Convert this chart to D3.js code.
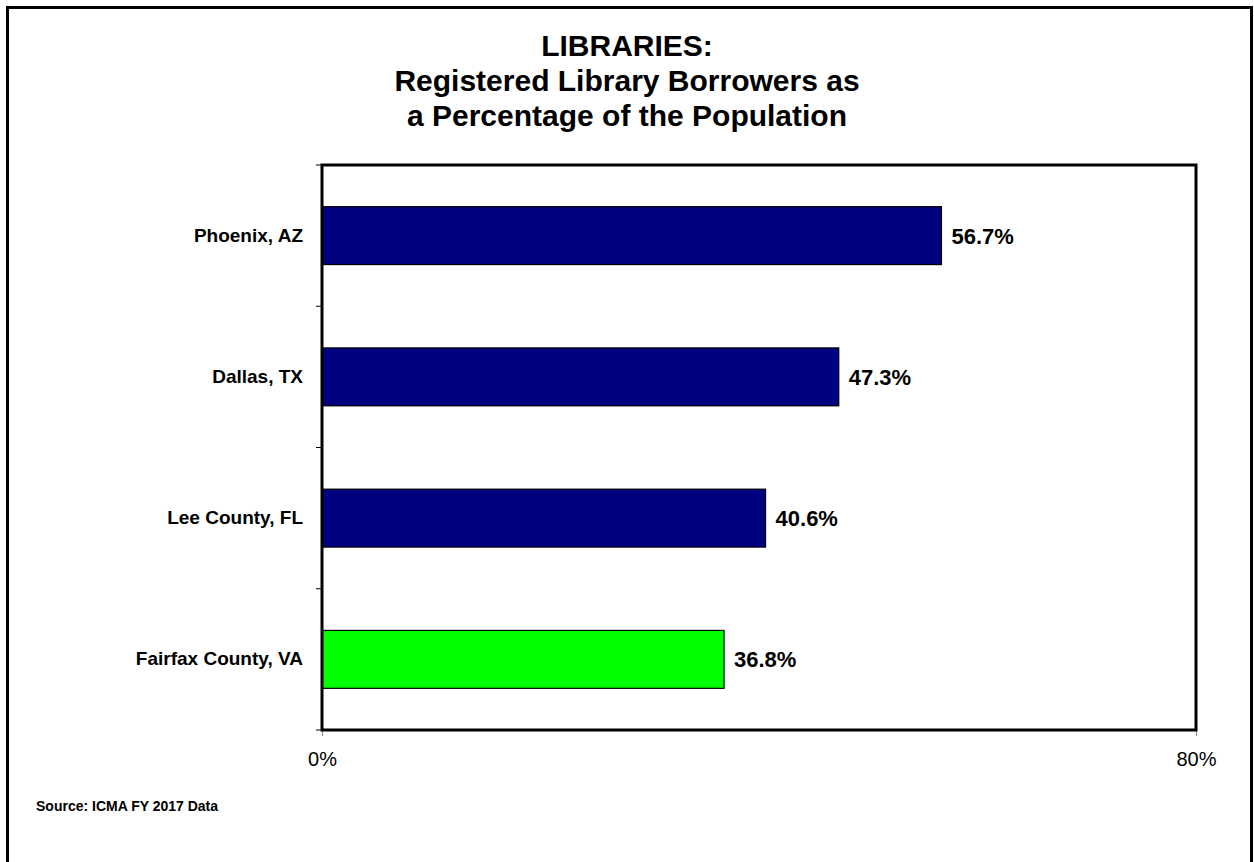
<!DOCTYPE html>
<html>
<head>
  <title>Registered Library Borrowers</title>
  <script src="https://d3js.org/d3.v7.min.js"></script>
  <style>
    body { margin: 0; background: #fff; }
    text { font-family: "Liberation Sans", Arial, sans-serif; fill: #000; }
  </style>
</head>
<body>
<script type="text/javascript">

// ****** DATA ******

  var places = ["Phoenix, AZ", "Dallas, TX", "Lee County, FL", "Fairfax County, VA"];
  var borrowPct = [56.7, 47.3, 40.6, 36.8];
  var barColors = ["#000080", "#000080", "#000080", "#00ff00"];
  var xTicks = [0, 80];
  var titleLines = ["LIBRARIES:", "Registered Library Borrowers as", "a Percentage of the Population"];
  var sourceNote = "Source: ICMA FY 2017 Data";

// ****** SIZES ******

  var width = 1254,
      height = 862;
  var plot = { left: 322, right: 1196, top: 165, bottom: 730 };

  var svg = d3.select("body")
    .append("svg")
    .attr("width", width)
    .attr("height", height);

  // outer frame, bottom edge runs off the page
  svg.append("rect")
    .attr("x", 7.5)
    .attr("y", 7.5)
    .attr("width", 1244)
    .attr("height", 900)
    .style("fill", "none")
    .style("stroke", "#000")
    .style("stroke-width", 3);

  // title
  svg.selectAll(".title")
    .data(titleLines)
    .enter()
    .append("text")
    .attr("class", "title")
    .attr("x", 627)
    .attr("y", function (d, i) { return 56 + i * 35; })
    .attr("text-anchor", "middle")
    .style("font-size", "30px")
    .style("font-weight", "bold")
    .text(function (d) { return d; });

// ****** SCALES ******

  var x = d3.scaleLinear()
    .domain([0, 80])
    .range([plot.left, plot.right]);

  var y = d3.scaleBand()
    .domain(places)
    .range([plot.top, plot.bottom])
    .paddingInner(0.59)
    .paddingOuter(0.295);

  var rows = places.map(function (p, i) {
    return { place: p, value: borrowPct[i], color: barColors[i] };
  });

// ****** BARS ******

  svg.selectAll(".bar")
    .data(rows)
    .enter()
    .append("rect")
    .attr("class", "bar")
    .attr("x", x(0))
    .attr("y", function (d) { return y(d.place); })
    .attr("width", function (d) { return x(d.value) - x(0); })
    .attr("height", y.bandwidth())
    .style("fill", function (d) { return d.color; })
    .style("stroke", "#000")
    .style("stroke-width", 1.2);

  svg.selectAll(".value")
    .data(rows)
    .enter()
    .append("text")
    .attr("class", "value")
    .attr("x", function (d) { return x(d.value) + 10; })
    .attr("y", function (d) { return y(d.place) + y.bandwidth() / 2; })
    .attr("dy", "0.36em")
    .style("font-size", "22px")
    .style("font-weight", "bold")
    .text(function (d) { return d.value.toFixed(1) + "%"; });

// ****** AXES ******

  // category boundary ticks on the left edge
  var bounds = places.map(function (p) { return y(p) - y.step() * y.paddingInner() / 2; });
  bounds.push(plot.bottom);
  svg.selectAll(".ytick")
    .data(bounds)
    .enter()
    .append("line")
    .attr("x1", plot.left - 6)
    .attr("x2", plot.left)
    .attr("y1", function (d) { return d; })
    .attr("y2", function (d) { return d; })
    .style("stroke", "#000")
    .style("stroke-width", 1);

  var yAxis = svg.append("g")
    .attr("transform", "translate(" + plot.left + ",0)")
    .call(d3.axisLeft(y).tickSize(0).tickPadding(19));
  yAxis.select(".domain").remove();
  yAxis.selectAll("text")
    .style("font-family", "'Liberation Sans', Arial, sans-serif")
    .style("font-size", "19px")
    .style("font-weight", "bold");

  var xAxis = svg.append("g")
    .attr("transform", "translate(0," + plot.bottom + ")")
    .call(d3.axisBottom(x)
      .tickValues(xTicks)
      .tickSize(6)
      .tickSizeOuter(0)
      .tickPadding(16)
      .tickFormat(function (d) { return d + "%"; }));
  xAxis.select(".domain").remove();
  xAxis.selectAll("line").style("stroke", "#888");
  xAxis.selectAll("text")
    .style("font-family", "'Liberation Sans', Arial, sans-serif")
    .style("font-size", "20px");

  // plot area box
  svg.append("rect")
    .attr("x", plot.left)
    .attr("y", plot.top)
    .attr("width", plot.right - plot.left)
    .attr("height", plot.bottom - plot.top)
    .style("fill", "none")
    .style("stroke", "#000")
    .style("stroke-width", 3);

  // source note
  svg.append("text")
    .attr("x", 36)
    .attr("y", 811)
    .style("font-size", "14px")
    .style("font-weight", "bold")
    .text(sourceNote);

</script>
</body>
</html>
